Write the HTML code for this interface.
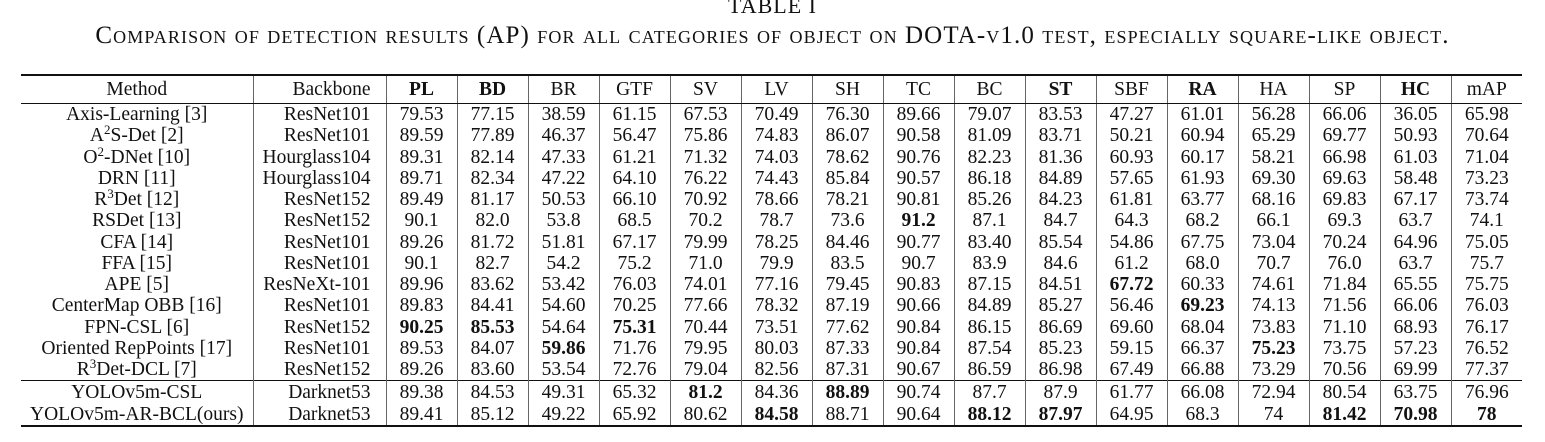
<!DOCTYPE html>
<html><head><meta charset="utf-8"><style>
body{margin:0;width:1545px;height:442px;background:#fff;overflow:hidden;font-family:"Liberation Serif",serif;color:#111;position:relative}
.t1{position:absolute;top:-7px;left:0;width:1545px;text-align:center;font-size:22px;letter-spacing:1px}
.cap{position:absolute;top:21px;left:0;width:1545px;text-align:center;font-size:25px;line-height:29px;font-variant:small-caps;white-space:nowrap;letter-spacing:1.1px}
table{position:absolute;left:21px;top:74px;border-collapse:collapse;table-layout:fixed;font-size:19.5px}
td{padding:0;text-align:center;height:21.25px;line-height:21px;white-space:nowrap;border-left:1.5px solid #666}
td:first-child{border-left:none}
tr.h td{height:27px;border-bottom:1.5px solid #111}
table{border-top:2.5px solid #111;border-bottom:2.5px solid #111}
tr.m td{border-top:1.5px solid #111}
tr.m td, tr.l td{height:22px}
td.bb{text-align:right;padding-right:15px}
b{font-weight:bold}
sup{font-size:13px;line-height:0;vertical-align:7px}
</style></head><body>
<div class="t1">TABLE I</div>
<div class="cap">Comparison of detection results (AP) for all categories of object on DOTA-v1.0 test, especially square-like object.</div>
<table>
<colgroup><col style="width:232px"><col style="width:133px">
<col style="width:71px"><col style="width:71px"><col style="width:71px"><col style="width:71px"><col style="width:71px"><col style="width:71px"><col style="width:71px"><col style="width:71px"><col style="width:71px"><col style="width:71px"><col style="width:71px"><col style="width:71px"><col style="width:71px"><col style="width:71px"><col style="width:71px"><col style="width:71px"></colgroup>
<tr class="h"><td>Method</td><td class="bb">Backbone</td><td><b>PL</b></td><td><b>BD</b></td><td>BR</td><td>GTF</td><td>SV</td><td>LV</td><td>SH</td><td>TC</td><td>BC</td><td><b>ST</b></td><td>SBF</td><td><b>RA</b></td><td>HA</td><td>SP</td><td><b>HC</b></td><td>mAP</td></tr>
<tr><td>Axis-Learning [3]</td><td class="bb">ResNet101</td><td>79.53</td><td>77.15</td><td>38.59</td><td>61.15</td><td>67.53</td><td>70.49</td><td>76.30</td><td>89.66</td><td>79.07</td><td>83.53</td><td>47.27</td><td>61.01</td><td>56.28</td><td>66.06</td><td>36.05</td><td>65.98</td></tr>
<tr><td>A<sup>2</sup>S-Det [2]</td><td class="bb">ResNet101</td><td>89.59</td><td>77.89</td><td>46.37</td><td>56.47</td><td>75.86</td><td>74.83</td><td>86.07</td><td>90.58</td><td>81.09</td><td>83.71</td><td>50.21</td><td>60.94</td><td>65.29</td><td>69.77</td><td>50.93</td><td>70.64</td></tr>
<tr><td>O<sup>2</sup>-DNet [10]</td><td class="bb">Hourglass104</td><td>89.31</td><td>82.14</td><td>47.33</td><td>61.21</td><td>71.32</td><td>74.03</td><td>78.62</td><td>90.76</td><td>82.23</td><td>81.36</td><td>60.93</td><td>60.17</td><td>58.21</td><td>66.98</td><td>61.03</td><td>71.04</td></tr>
<tr><td>DRN [11]</td><td class="bb">Hourglass104</td><td>89.71</td><td>82.34</td><td>47.22</td><td>64.10</td><td>76.22</td><td>74.43</td><td>85.84</td><td>90.57</td><td>86.18</td><td>84.89</td><td>57.65</td><td>61.93</td><td>69.30</td><td>69.63</td><td>58.48</td><td>73.23</td></tr>
<tr><td>R<sup>3</sup>Det [12]</td><td class="bb">ResNet152</td><td>89.49</td><td>81.17</td><td>50.53</td><td>66.10</td><td>70.92</td><td>78.66</td><td>78.21</td><td>90.81</td><td>85.26</td><td>84.23</td><td>61.81</td><td>63.77</td><td>68.16</td><td>69.83</td><td>67.17</td><td>73.74</td></tr>
<tr><td>RSDet [13]</td><td class="bb">ResNet152</td><td>90.1</td><td>82.0</td><td>53.8</td><td>68.5</td><td>70.2</td><td>78.7</td><td>73.6</td><td><b>91.2</b></td><td>87.1</td><td>84.7</td><td>64.3</td><td>68.2</td><td>66.1</td><td>69.3</td><td>63.7</td><td>74.1</td></tr>
<tr><td>CFA [14]</td><td class="bb">ResNet101</td><td>89.26</td><td>81.72</td><td>51.81</td><td>67.17</td><td>79.99</td><td>78.25</td><td>84.46</td><td>90.77</td><td>83.40</td><td>85.54</td><td>54.86</td><td>67.75</td><td>73.04</td><td>70.24</td><td>64.96</td><td>75.05</td></tr>
<tr><td>FFA [15]</td><td class="bb">ResNet101</td><td>90.1</td><td>82.7</td><td>54.2</td><td>75.2</td><td>71.0</td><td>79.9</td><td>83.5</td><td>90.7</td><td>83.9</td><td>84.6</td><td>61.2</td><td>68.0</td><td>70.7</td><td>76.0</td><td>63.7</td><td>75.7</td></tr>
<tr><td>APE [5]</td><td class="bb">ResNeXt-101</td><td>89.96</td><td>83.62</td><td>53.42</td><td>76.03</td><td>74.01</td><td>77.16</td><td>79.45</td><td>90.83</td><td>87.15</td><td>84.51</td><td><b>67.72</b></td><td>60.33</td><td>74.61</td><td>71.84</td><td>65.55</td><td>75.75</td></tr>
<tr><td>CenterMap OBB [16]</td><td class="bb">ResNet101</td><td>89.83</td><td>84.41</td><td>54.60</td><td>70.25</td><td>77.66</td><td>78.32</td><td>87.19</td><td>90.66</td><td>84.89</td><td>85.27</td><td>56.46</td><td><b>69.23</b></td><td>74.13</td><td>71.56</td><td>66.06</td><td>76.03</td></tr>
<tr><td>FPN-CSL [6]</td><td class="bb">ResNet152</td><td><b>90.25</b></td><td><b>85.53</b></td><td>54.64</td><td><b>75.31</b></td><td>70.44</td><td>73.51</td><td>77.62</td><td>90.84</td><td>86.15</td><td>86.69</td><td>69.60</td><td>68.04</td><td>73.83</td><td>71.10</td><td>68.93</td><td>76.17</td></tr>
<tr><td>Oriented RepPoints [17]</td><td class="bb">ResNet101</td><td>89.53</td><td>84.07</td><td><b>59.86</b></td><td>71.76</td><td>79.95</td><td>80.03</td><td>87.33</td><td>90.84</td><td>87.54</td><td>85.23</td><td>59.15</td><td>66.37</td><td><b>75.23</b></td><td>73.75</td><td>57.23</td><td>76.52</td></tr>
<tr><td>R<sup>3</sup>Det-DCL [7]</td><td class="bb">ResNet152</td><td>89.26</td><td>83.60</td><td>53.54</td><td>72.76</td><td>79.04</td><td>82.56</td><td>87.31</td><td>90.67</td><td>86.59</td><td>86.98</td><td>67.49</td><td>66.88</td><td>73.29</td><td>70.56</td><td>69.99</td><td>77.37</td></tr>
<tr class="m"><td>YOLOv5m-CSL</td><td class="bb">Darknet53</td><td>89.38</td><td>84.53</td><td>49.31</td><td>65.32</td><td><b>81.2</b></td><td>84.36</td><td><b>88.89</b></td><td>90.74</td><td>87.7</td><td>87.9</td><td>61.77</td><td>66.08</td><td>72.94</td><td>80.54</td><td>63.75</td><td>76.96</td></tr>
<tr class="l"><td>YOLOv5m-AR-BCL(ours)</td><td class="bb">Darknet53</td><td>89.41</td><td>85.12</td><td>49.22</td><td>65.92</td><td>80.62</td><td><b>84.58</b></td><td>88.71</td><td>90.64</td><td><b>88.12</b></td><td><b>87.97</b></td><td>64.95</td><td>68.3</td><td>74</td><td><b>81.42</b></td><td><b>70.98</b></td><td><b>78</b></td></tr>
</table>
</body></html>
